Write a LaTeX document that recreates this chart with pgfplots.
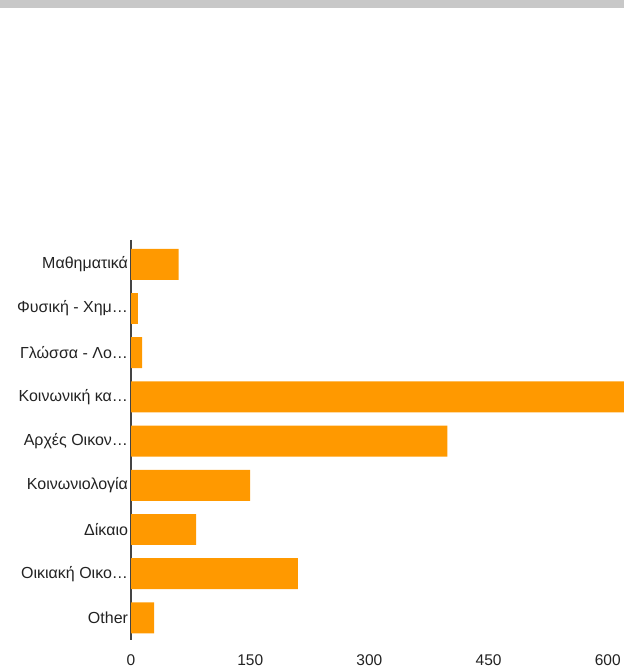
\documentclass[border=0pt]{standalone}
\usepackage{pgfplots}
\pgfplotsset{compat=1.18}
\usepackage{fontspec}
\setmainfont{Liberation Sans}
\definecolor{barorange}{HTML}{FF9900}
\definecolor{topgray}{HTML}{C8C8C8}
\definecolor{txt}{HTML}{222222}
\definecolor{axisgray}{HTML}{444444}
\begin{document}
\begin{tikzpicture}[x=1bp,y=1bp]
\useasboundingbox (0,0) rectangle (624,668);
\fill[topgray] (0,660) rectangle (624,668);
\begin{axis}[
  at={(131bp,28bp)}, anchor=south west,
  scale only axis, width=493bp, height=400bp,
  xmin=0, xmax=620.4, ymin=-0.55, ymax=8.5, y dir=reverse,
  xbar, bar width=0.7,
  axis lines*=left,
  x axis line style={draw=none},
  y axis line style={draw=axisgray, line width=1.2bp},
  major tick length=0pt,
  tick style={draw=none},
  xtick={0,150,300,450,600},
  ytick={0,1,2,3,4,5,6,7,8},
  yticklabels={Μαθηματικά, Φυσική - Χημ…, Γλώσσα - Λο…, Κοινωνική κα…, Αρχές Οικον…, Κοινωνιολογία, Δίκαιο, Οικιακή Οικο…, Other},
  yticklabel style={font=\fontsize{16bp}{18bp}\selectfont, text=txt, xshift=0.5bp},
  xticklabel style={font=\fontsize{15.5bp}{18bp}\selectfont, text=txt, yshift=-11bp},
  /pgf/number format/assume math mode=true,
]
\addplot[fill=barorange, draw=none] coordinates {
  (60,0) (8.5,1) (14,2) (650,3) (398,4) (150,5) (82,6) (210,7) (29,8)
};
\end{axis}
\end{tikzpicture}
\end{document}
